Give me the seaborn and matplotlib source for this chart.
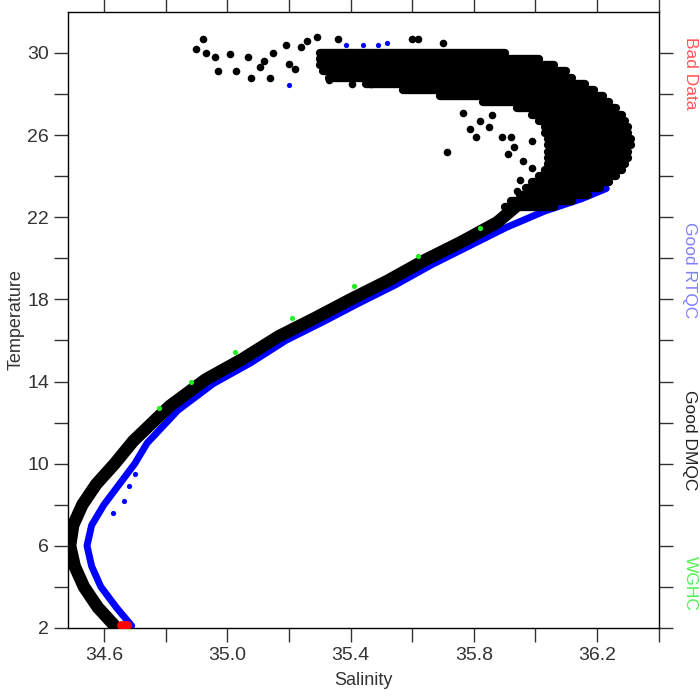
import numpy as np
import matplotlib
matplotlib.use("Agg")
import matplotlib.pyplot as plt
import seaborn as sns

# centreline of the good DMQC band (salinity, temperature)
dm_S = [34.635, 34.58, 34.535, 34.505, 34.49, 34.50, 34.53, 34.575, 34.635, 34.695, 34.813,
        34.93, 35.05, 35.167, 35.286, 35.40, 35.52, 35.64, 35.76, 35.876, 35.935]
dm_T = [2.1, 3, 4, 5, 6, 7, 8, 9, 10, 11.1, 12.8,
        14.1, 15.1, 16.2, 17.1, 18.0, 18.9, 19.9, 20.8, 21.75, 22.5]

# dense warm part of the DMQC cloud: temperature rows with salinity span
row_T = [30.0, 29.7, 29.4, 29.1, 28.8, 28.5, 28.2, 27.9, 27.6, 27.3, 27.0, 26.7, 26.4,
         26.1, 25.8, 25.5, 25.2, 24.9, 24.6, 24.3, 24.0, 23.7, 23.4, 23.1, 22.8, 22.5]
row_lo = [35.30, 35.30, 35.30, 35.31, 35.33, 35.45, 35.57, 35.69, 35.83, 35.94, 35.99, 36.01, 36.03,
          36.03, 36.04, 36.04, 36.04, 36.04, 36.04, 36.03, 36.01, 35.99, 35.97, 35.95, 35.92, 35.90]
row_hi = [35.90, 36.01, 36.06, 36.10, 36.12, 36.16, 36.19, 36.22, 36.24, 36.26, 36.28, 36.29, 36.30,
          36.30, 36.31, 36.31, 36.30, 36.30, 36.29, 36.28, 36.26, 36.24, 36.21, 36.17, 36.12, 36.06]

# scattered DMQC points around the warm cloud
sc_S = [34.90, 34.92, 34.96, 34.97, 35.01, 35.066, 35.076, 35.107, 35.14, 35.147, 35.19, 35.20,
        35.24, 35.26, 35.29, 35.30, 35.36, 35.405, 35.468, 35.60, 35.62, 35.70, 35.447, 35.50,
        35.765, 35.787, 35.82, 35.807, 35.85, 35.858, 35.89, 35.91, 35.93, 35.96, 35.99, 35.99,
        36.01, 35.95, 35.94, 35.92, 35.714, 34.93, 35.03, 35.12, 35.22, 35.33, 35.38]
sc_T = [30.2, 30.7, 29.8, 29.1, 29.95, 29.78, 28.8, 29.3, 28.8, 30.0, 30.4, 29.45,
        30.27, 30.6, 30.8, 29.78, 30.7, 28.5, 28.5, 30.7, 30.7, 30.5, 29.95, 29.78,
        27.1, 26.3, 26.7, 25.9, 26.4, 27.0, 25.9, 25.1, 25.4, 24.75, 25.7, 24.4,
        23.8, 23.8, 23.3, 25.9, 25.2, 30.0, 29.1, 29.6, 29.2, 28.7, 29.1]

# good RTQC band (mostly hidden under DMQC)
rt_S = [34.69, 34.64, 34.59, 34.56, 34.545, 34.56, 34.60, 34.65, 34.70, 34.74,
        34.84, 34.955, 35.075, 35.19, 35.31, 35.425, 35.545, 35.665, 35.785, 35.905,
        36.03, 36.15, 36.23]
rt_T = [2.1, 3, 4, 5, 6, 7, 8, 9, 10, 11,
        12.6, 13.9, 14.9, 16.0, 16.9, 17.8, 18.7, 19.7, 20.6, 21.5,
        22.3, 22.9, 23.4]
rt_pt_S = [35.20, 35.385, 35.44, 35.49, 35.52, 35.61, 35.66, 35.71, 35.98, 36.01,
           34.665, 34.70, 34.63, 34.68]
rt_pt_T = [28.45, 30.4, 30.4, 30.4, 30.5, 28.2, 28.2, 28.1, 29.7, 29.1,
           8.2, 9.5, 7.6, 8.9]

# WGHC climatology points
wg_S = [34.78, 34.884, 35.024, 35.21, 35.41, 35.62, 35.82]
wg_T = [12.7, 13.96, 15.43, 17.07, 18.63, 20.1, 21.5]

# bad data
bad_S = [34.655, 34.665, 34.675]
bad_T = [2.15, 2.15, 2.15]

sns.set_style("white")
plt.rcParams["font.family"] = ["Liberation Sans", "DejaVu Sans"]

fig = plt.figure(figsize=(7, 7), dpi=100)
ax = fig.add_axes([0.097, 0.103, 0.844, 0.88])

sns.lineplot(x=rt_S, y=rt_T, sort=False, estimator=None, color="#0000ff", lw=5, ax=ax)
sns.scatterplot(x=rt_pt_S, y=rt_pt_T, color="#0000ff", s=14, linewidth=0, ax=ax)
sns.lineplot(x=dm_S, y=dm_T, sort=False, estimator=None, color="black", lw=9, ax=ax,
             solid_capstyle="round", solid_joinstyle="round")
ax.hlines(row_T, row_lo, row_hi, color="black", lw=6, capstyle="round")
sns.scatterplot(x=sc_S, y=sc_T, color="black", s=30, linewidth=0, ax=ax)
sns.scatterplot(x=wg_S, y=wg_T, color="#22ee22", s=14, linewidth=0, ax=ax, zorder=5)
sns.scatterplot(x=bad_S, y=bad_T, color="red", s=40, linewidth=0, ax=ax, zorder=5)

ax.set_xlim(34.483, 36.31)
ax.set_ylim(2, 32)
xt = np.arange(34.6, 36.45, 0.2)
ax.set_xticks(xt)
ax.set_xticklabels([f"{v:.1f}" if i % 2 == 0 else "" for i, v in enumerate(xt)])
yt = np.arange(2, 31, 2)
ax.set_yticks(yt)
ax.set_yticklabels([str(v) if (v - 2) % 4 == 0 else "" for v in yt])
ax.tick_params(direction="out", length=10, width=1, labelsize=14, colors="#333333",
               top=True, right=True, bottom=True, left=True)
for sp in ax.spines.values():
    sp.set_color("black")
    sp.set_linewidth(1)
ax.set_xlabel("Salinity", fontsize=13, color="#333333")
ax.set_ylabel("Temperature", fontsize=13, color="#333333")
ax.xaxis.labelpad = 6
ax.yaxis.labelpad = 2

labels = [("Bad Data", "#ff5555", 73), ("Good RTQC", "#8080ff", 270),
          ("Good DMQC", "#222222", 440), ("WGHC", "#55ee55", 583)]
for txt, col, ypx in labels:
    fig.text(690 / 700, 1 - ypx / 700, txt, rotation=-90, color=col, fontsize=12.5,
             ha="center", va="center")

fig.savefig("out.png", dpi=100)
